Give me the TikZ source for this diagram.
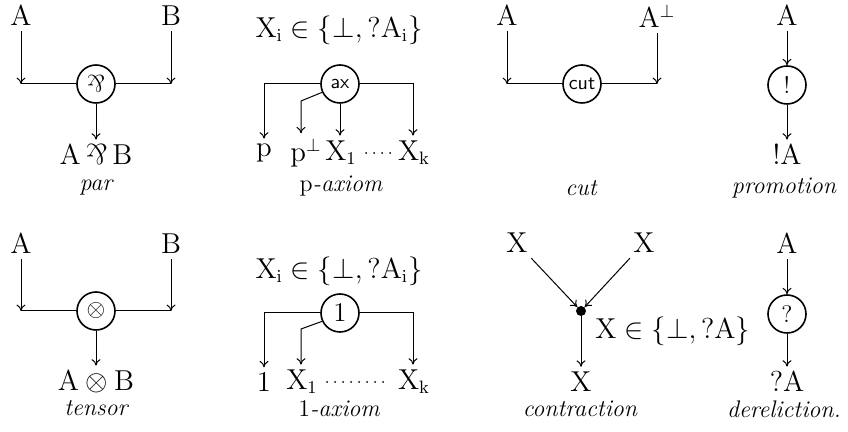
\documentclass[tikz,border=0pt]{standalone}
\usetikzlibrary{arrows.meta}
\newcommand{\mypar}{\rotatebox[origin=c]{180}{$\&$}}
\begin{document}
\begin{tikzpicture}[x=0.5pt,y=-0.5pt, font=\large,
  lbl/.style={inner sep=2.5pt, anchor=center, font=\fontsize{13.5}{16}\selectfont},
  gate/.style={draw, circle, line width=0.8pt, minimum size=19pt, inner sep=0pt},
  wire/.style={line width=0.5pt},
  arr/.style={wire, -{To[length=3.2pt,width=4.5pt]}},
  dots/.style={line width=1pt, line cap=round, dash pattern=on 0pt off 4pt},
  rulename/.style={font=\large\itshape, inner sep=1pt},
  sflbl/.style={font=\sffamily\normalsize}]
\useasboundingbox (0,0) rectangle (848,432);

% ---------- par ----------
\node[lbl] (parA) at (21,16) {$\mathrm{A}$};
\node[lbl] (parB) at (171,16) {$\mathrm{B}$};
\node[gate] (par) at (96,84) {\mypar};
\coordinate (parL) at (21,84);
\coordinate (parR) at (171,84);
\node[lbl] (parAB) at (96,155) {$\mathrm{A}\,\mypar\,\mathrm{B}$};
\node[rulename] (parN) at (96,188) {par};
\draw[arr] (parA) -- (parL);
\draw[arr] (parB) -- (parR);
\draw[wire] (parL) -- (par) -- (parR);
\draw[arr] (par) -- (parAB);

% ---------- p-axiom ----------
\node[lbl] (paxT) at (339,30) {$\mathrm{X_i} \in \{\bot, ?\mathrm{A_i}\}$};
\node[gate, sflbl] (ax) at (340,84) {ax};
\node[lbl] (pp) at (264,153) {$\mathrm{p}$};
\node[lbl] (ppb) at (306,153) {$\mathrm{p}^{\bot}$};
\node[lbl] (px1) at (341,153) {$\mathrm{X_1}$};
\node[lbl] (pxk) at (414,153) {$\mathrm{X_k}$};
\coordinate (pbk) at (301,101);
\node[rulename] (paxN) at (341,186) {$\mathrm{p}$-axiom};
\draw[arr] (ax.west) -| (pp);
\draw[arr] (ax.205) -- (pbk) -- (pbk |- ppb.north);
\draw[arr] (ax) -- (ax |- px1.north);
\coordinate (pkc) at (413,84);
\draw[arr] (ax.east) -- (pkc) -- (pkc |- pxk.north);
\draw[dots] ([xshift=2pt]px1.east) -- ([xshift=-1pt]pxk.west);

% ---------- cut ----------
\node[lbl] (cA) at (507,16) {$\mathrm{A}$};
\node[lbl] (cAb) at (657,16) {$\mathrm{A}^{\bot}$};
\node[gate, sflbl] (cut) at (582,84) {cut};
\coordinate (cL) at (507,84);
\coordinate (cR) at (657,84);
\node[rulename] (cutN) at (581,188) {cut};
\draw[arr] (cA) -- (cL);
\draw[arr] (cAb) -- (cR);
\draw[wire] (cL) -- (cut) -- (cR);

% ---------- promotion ----------
\node[lbl] (prA) at (787,16) {$\mathrm{A}$};
\node[gate] (prom) at (787,85) {!};
\node[lbl] (prbA) at (787,155) {$!\mathrm{A}$};
\node[rulename] (promN) at (784,188) {promotion};
\draw[arr] (prA) -- (prom);
\draw[arr] (prom) -- (prbA);

% ---------- tensor ----------
\node[lbl] (tA) at (21,244) {$\mathrm{A}$};
\node[lbl] (tB) at (171,244) {$\mathrm{B}$};
\node[gate] (tens) at (96,311) {$\otimes$};
\coordinate (tL) at (21,311);
\coordinate (tR) at (171,311);
\node[lbl] (tAB) at (96,382) {$\mathrm{A}\otimes\mathrm{B}$};
\node[rulename] (tN) at (96,408) {tensor};
\draw[arr] (tA) -- (tL);
\draw[arr] (tB) -- (tR);
\draw[wire] (tL) -- (tens) -- (tR);
\draw[arr] (tens) -- (tAB);

% ---------- 1-axiom ----------
\node[lbl] (oT) at (339,271) {$\mathrm{X_i} \in \{\bot, ?\mathrm{A_i}\}$};
\node[gate] (one) at (340,313) {\fontsize{13.5}{16}\selectfont 1};
\node[lbl] (o1) at (264,382) {$1$};
\node[lbl] (ox1) at (302,382) {$\mathrm{X_1}$};
\node[lbl] (oxk) at (414,382) {$\mathrm{X_k}$};
\coordinate (obk) at (301,329);
\coordinate (okc) at (413,313);
\node[rulename] (oN) at (339,409) {$1$-axiom};
\draw[arr] (one.west) -| (o1);
\draw[arr] (one.205) -- (obk) -- (obk |- ox1.north);
\draw[arr] (one.east) -- (okc) -- (okc |- oxk.north);
\draw[dots] ([xshift=2pt]ox1.east) -- ([xshift=-1pt]oxk.west);

% ---------- contraction ----------
\node[lbl] (xl) at (517,243) {$\mathrm{X}$};
\node[lbl] (xr) at (644,243) {$\mathrm{X}$};
\node[circle, fill, inner sep=0pt, minimum size=5pt] (cdot) at (581,311) {};
\node[lbl] (xb) at (581,382) {$\mathrm{X}$};
\node[lbl, anchor=west] (xset) at (590,331) {$\mathrm{X} \in \{\bot, ?\mathrm{A}\}$};
\node[rulename] (conN) at (580,409) {contraction};
\draw[arr] (xl) -- (cdot);
\draw[arr] (xr) -- (cdot);
\draw[arr] (cdot) -- (xb);

% ---------- dereliction ----------
\node[lbl] (dA) at (787,244) {$\mathrm{A}$};
\node[gate] (der) at (787,314) {$?$};
\node[lbl] (dqA) at (787,382) {$?\mathrm{A}$};
\node[rulename] (derN) at (784,409) {dereliction.};
\draw[arr] (dA) -- (der);
\draw[arr] (der) -- (dqA);
\end{tikzpicture}
\end{document}
